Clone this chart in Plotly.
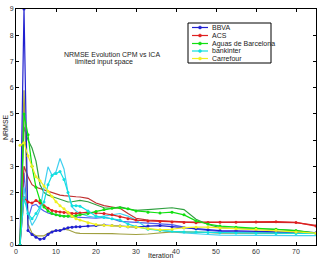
import plotly.graph_objects as go

iterations = [1, 2, 3, 4, 5, 6, 7, 8, 9, 10, 11, 12, 13, 14, 15, 16, 18, 20, 22, 24,
              26, 28, 30, 33, 36, 39, 42, 45, 48, 51, 55, 60, 65, 70, 75]

bbva_cpm = [0, 9.0, 0.55, 0.4, 0.3, 0.22, 0.25, 0.4, 0.5, 0.55, 0.55, 0.62, 0.66, 0.68, 0.7, 0.7,
            0.72, 0.74, 0.76, 0.74, 0.72, 0.7, 0.68, 0.72, 0.74, 0.7, 0.66, 0.62, 0.58, 0.55, 0.54,
            0.52, 0.5, 0.48, 0.47]
bbva_ica = [0, 2.75, 1.0, 1.5, 1.55, 1.4, 1.3, 1.22, 1.18, 1.15, 1.12, 1.1, 1.08, 1.07, 1.06, 1.05,
            1.05, 1.02, 1.05, 1.0, 0.9, 0.88, 0.86, 0.84, 0.82, 0.78, 0.68, 0.6, 0.56, 0.52, 0.5,
            0.48, 0.48, 0.47, 0.46]
acs_cpm = [0, 1.8, 1.64, 1.6, 1.7, 1.6, 1.5, 1.4, 1.32, 1.28, 1.26, 1.24, 1.22, 1.2, 1.2, 1.22,
           1.25, 1.22, 1.2, 1.15, 1.08, 1.0, 0.95, 0.92, 0.9, 0.88, 0.86, 0.85, 0.86, 0.87, 0.87,
           0.88, 0.89, 0.86, 0.72]
acs_ica = [0, 3.0, 2.6, 2.3, 2.2, 2.15, 2.1, 2.05, 2.0, 1.95, 1.9, 1.88, 1.86, 1.85, 1.84, 1.83,
           1.78, 1.6, 1.5, 1.45, 1.4, 1.2, 1.02, 0.95, 0.92, 0.9, 0.88, 0.87, 0.86, 0.86, 0.86,
           0.87, 0.87, 0.85, 0.75]
aguas_cpm = [0, 5.0, 4.2, 3.0, 2.2, 1.7, 1.45, 1.3, 1.2, 1.15, 1.12, 1.1, 1.1, 1.1, 1.12, 1.15,
             1.2, 1.28, 1.35, 1.4, 1.42, 1.38, 1.3, 1.25, 1.22, 1.25, 1.15, 0.92, 0.8, 0.72, 0.68,
             0.64, 0.6, 0.55, 0.44]
aguas_ica = [0, 4.5, 4.0, 3.7, 3.2, 2.3, 2.0, 1.9, 1.85, 1.8, 1.75, 1.68, 1.64, 1.65, 1.68, 1.7,
             1.65, 1.55, 1.42, 1.4, 1.45, 1.38, 1.32, 1.35, 1.38, 1.42, 1.35, 0.98, 0.78, 0.66,
             0.63, 0.62, 0.6, 0.55, 0.46]
bankinter_cpm = [0, 1.8, 1.2, 1.0, 1.2, 1.45, 1.64, 2.3, 2.65, 2.73, 2.8, 2.5, 2.0, 1.5, 1.5,
                 1.48, 1.3, 1.1, 1.05, 1.0, 0.95, 0.8, 0.7, 0.6, 0.55, 0.52, 0.5, 0.5, 0.48, 0.47,
                 0.46, 0.45, 0.44, 0.44, 0.44]
bankinter_ica = [0, 2.2, 1.2, 0.75, 1.0, 1.35, 2.2, 2.98, 2.66, 2.8, 3.3, 2.9, 2.0, 1.45, 1.3,
                 1.2, 1.1, 1.05, 1.1, 1.15, 1.2, 1.1, 0.95, 0.62, 0.55, 0.5, 0.46, 0.42, 0.4,
                 0.38, 0.37, 0.36, 0.36, 0.36, 0.36]
carrefour_cpm = [3.8, 3.9, 3.4, 3.0, 2.6, 2.45, 2.25, 2.05, 1.85, 1.65, 1.5, 1.38, 1.25, 1.1, 1.0,
                 0.95, 0.85, 0.78, 0.75, 0.74, 0.72, 0.7, 0.68, 0.62, 0.58, 0.6, 0.66, 0.68, 0.68,
                 0.65, 0.62, 0.6, 0.56, 0.5, 0.45]
carrefour_ica = [0, 5.9, 0.8, 0.45, 0.35, 0.35, 0.35, 0.45, 0.52, 0.55, 0.58, 0.6, 0.58, 0.52,
                 0.46, 0.44, 0.44, 0.45, 0.45, 0.43, 0.42, 0.4, 0.4, 0.42, 0.46, 0.5, 0.5, 0.5,
                 0.48, 0.45, 0.44, 0.44, 0.44, 0.44, 0.44]

names = ["BBVA", "ACS", "Aguas de Barcelona", "bankinter", "Carrefour"]
cpm_series = [bbva_cpm, acs_cpm, aguas_cpm, bankinter_cpm, carrefour_cpm]
ica_series = [bbva_ica, acs_ica, aguas_ica, bankinter_ica, carrefour_ica]
cpm_colors = ["#2020d0", "#e02020", "#10e010", "#10e0e0", "#f0f020"]
ica_colors = ["#5060f0", "#c03030", "#30a040", "#40d0f0", "#a0a040"]

fig = go.Figure()
for name, ys, col in zip(names, ica_series, ica_colors):
    fig.add_trace(go.Scatter(x=iterations, y=ys, mode="lines", name=name + " ICA",
                             line=dict(color=col, width=1.2), showlegend=False))
for name, ys, col in zip(names, cpm_series, cpm_colors):
    fig.add_trace(go.Scatter(x=iterations, y=ys, mode="lines+markers", name=name,
                             line=dict(color=col, width=1.2), showlegend=False,
                             marker=dict(color=col, size=3, symbol="circle")))

font = "Liberation Sans, Arial, sans-serif"
txt_col = "#222222"
axis_common = dict(showgrid=False, zeroline=False, showline=True, linecolor="#000000",
                   linewidth=1, mirror="ticks", ticks="inside", ticklen=3,
                   tickcolor="#000000", tickfont=dict(size=7, color="#333333", family=font))

# plot area in pixels: x 16..316, y 9..245
def px(xp):
    return (xp - 16) / 300.0

def py(yp):
    return (245 - yp) / 236.0

shapes = [dict(type="rect", xref="paper", yref="paper", x0=px(188), x1=px(271),
               y0=py(63), y1=py(23), fillcolor="white", line=dict(color="#000000", width=1),
               layer="above")]
annotations = []
entry_y = [27.5, 35.5, 43.5, 51, 58.5]
for name, col, ey in zip(names, cpm_colors, entry_y):
    shapes.append(dict(type="line", xref="paper", yref="paper", x0=px(192), x1=px(208),
                       y0=py(ey), y1=py(ey), line=dict(color=col, width=1.2), layer="above"))
    shapes.append(dict(type="circle", xref="paper", yref="paper", xsizemode="pixel",
                       ysizemode="pixel", xanchor=px(200), yanchor=py(ey),
                       x0=-1.5, x1=1.5, y0=-1.5, y1=1.5, fillcolor=col,
                       line=dict(color=col, width=0.5), layer="above"))
    annotations.append(dict(text=name, x=px(210), y=py(ey), xref="paper", yref="paper",
                            xanchor="left", yanchor="middle", showarrow=False,
                            font=dict(size=7, family=font, color=txt_col)))

annotations += [
    dict(text="NRMSE Evolution CPM vs ICA", x=24, y=7.28, xref="x", yref="y",
         showarrow=False, font=dict(size=7, family=font, color=txt_col)),
    dict(text="limited input space", x=22, y=6.96, xref="x", yref="y",
         showarrow=False, font=dict(size=7, family=font, color=txt_col)),
    dict(text="Iteration", x=0.48, y=py(261), xref="paper", yref="paper",
         yanchor="bottom", showarrow=False, font=dict(size=7, family=font, color=txt_col)),
    dict(text="NRMSE", x=px(5), y=0.5, xref="paper", yref="paper", textangle=-90,
         xanchor="center", showarrow=False, font=dict(size=7, family=font, color=txt_col)),
]

fig.update_layout(
    width=320, height=261,
    margin=dict(l=16, r=4, t=9, b=16),
    paper_bgcolor="white", plot_bgcolor="white",
    xaxis=dict(range=[0, 75], tickvals=[0, 10, 20, 30, 40, 50, 60, 70], **axis_common),
    yaxis=dict(range=[0, 9], tickvals=list(range(10)), **axis_common),
    showlegend=False,
    shapes=shapes,
    annotations=annotations,
)

fig.write_html("out.html")
